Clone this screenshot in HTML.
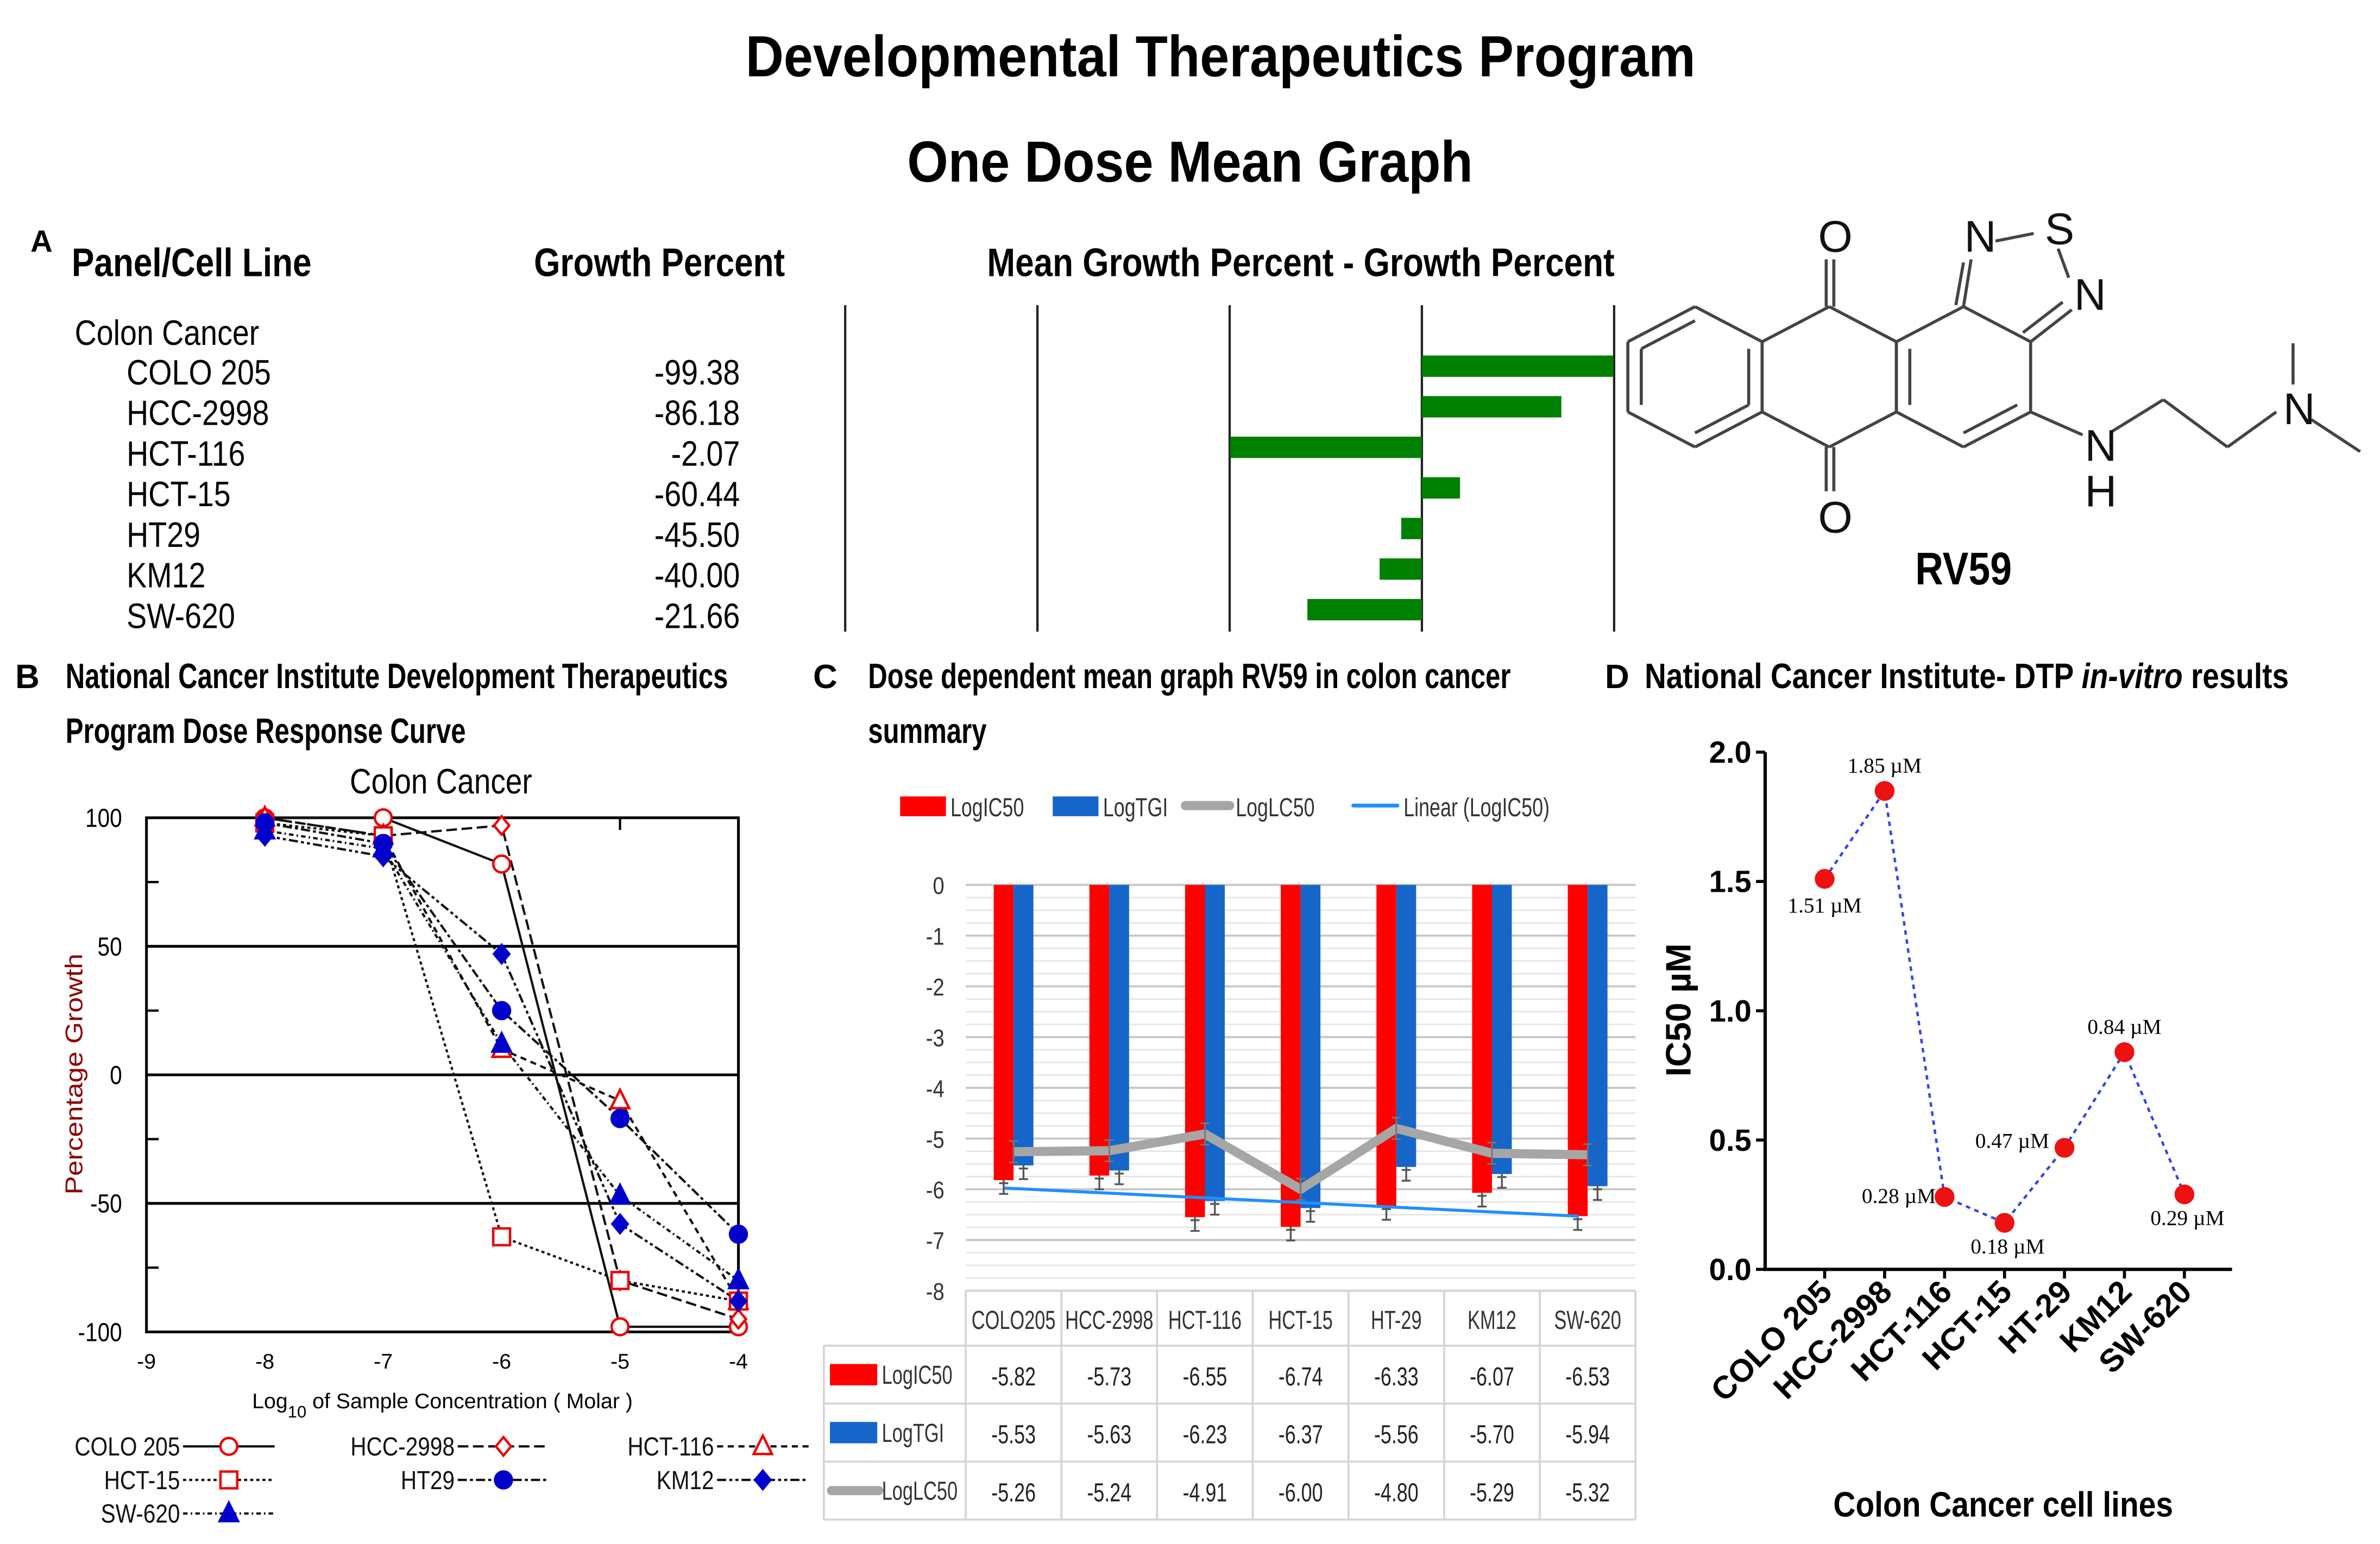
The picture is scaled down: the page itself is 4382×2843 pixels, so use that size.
<!DOCTYPE html>
<html><head><meta charset="utf-8"><title>RV59 DTP figure</title>
<style>
html,body{margin:0;padding:0;background:#fff;}
svg{display:block;}
text{font-family:"Liberation Sans Narrow","Liberation Sans",sans-serif;}
.b{font-weight:bold;}
.serif{font-family:"Liberation Serif",serif;}
</style></head>
<body>
<svg id="fig" width="4382" height="2843" viewBox="0 0 1560 1012" preserveAspectRatio="none" xmlns="http://www.w3.org/2000/svg">
<rect x="0" y="0" width="1560" height="1012" fill="#fff"/>
<text class="b c91" x="800" y="50" font-size="38" text-anchor="middle">Developmental Therapeutics Program</text>
<text class="b c91" x="780" y="119" font-size="38" text-anchor="middle">One Dose Mean Graph</text>

<g id="panelA">
<text class="b" x="20" y="165" font-size="20">A</text>
<text class="b c85" x="47" y="181" font-size="26">Panel/Cell Line</text>
<text class="b c85" x="350" y="181" font-size="26">Growth Percent</text>
<text class="b c85" x="647" y="181" font-size="26">Mean Growth Percent - Growth Percent</text>
<text class="c86" x="49" y="226" font-size="23">Colon Cancer</text>
</g>

<g id="mol" stroke="#444" stroke-width="2" fill="none"></g>
<text class="b c85" x="1287" y="383" font-size="30" text-anchor="middle">RV59</text>

<g id="panelB">
<text class="b" x="10" y="451" font-size="22">B</text>
<text class="b c76" x="43" y="451" font-size="23">National Cancer Institute Development Therapeutics</text>
<text class="b c76" x="43" y="487" font-size="23">Program Dose Response Curve</text>
<text class="c85" x="289" y="520" font-size="23" text-anchor="middle">Colon Cancer</text>
<text x="0" y="0" font-size="16" fill="#8b0000" text-anchor="middle" transform="translate(54,704) rotate(-90)" textLength="158" lengthAdjust="spacingAndGlyphs">Percentage Growth</text>
<text x="290" y="923" font-size="14" text-anchor="middle">Log<tspan font-size="11" dy="6">10</tspan><tspan dy="-6"> of Sample Concentration ( Molar )</tspan></text>
</g>

<g id="panelC">
<text class="b" x="533" y="451" font-size="22">C</text>
<text class="b c76" x="569" y="451" font-size="23">Dose dependent mean graph RV59 in colon cancer</text>
<text class="b c76" x="569" y="487" font-size="23">summary</text>
</g>

<g id="panelD">
<text class="b" x="1052" y="451" font-size="22">D</text>
<text class="b c85" x="1078" y="451" font-size="23">National Cancer Institute- DTP <tspan font-style="italic">in-vitro</tspan> results</text>
<text class="b" font-size="23" text-anchor="middle" transform="translate(1108,662) rotate(-90)" font-family="Liberation Sans, sans-serif">IC50 µM</text>
<text class="b c88" x="1313" y="994" font-size="23" text-anchor="middle">Colon Cancer cell lines</text>
</g>
</svg>
<script>
const NS="http://www.w3.org/2000/svg";
const svg=document.getElementById('fig');
function mk(parent,tag,attrs,txt){const e=document.createElementNS(NS,tag);for(const k in attrs)e.setAttribute(k,attrs[k]);if(txt!==undefined)e.textContent=txt;parent.appendChild(e);return e;}

// ===== Panel A data =====
const aCells=["COLO 205","HCC-2998","HCT-116","HCT-15","HT29","KM12","SW-620"];
const aGrowth=[-99.38,-86.18,-2.07,-60.44,-45.50,-40.00,-21.66];

// ===== Panel B data =====
const bConc=[-8,-7,-6,-5,-4];
const bNames=["COLO 205","HCC-2998","HCT-116","HCT-15","HT29","KM12","SW-620"];
const bColo=[100,100,82,-98,-98];
const bHcc=[100,93,97,-80,-95];
const bHct116=[100,93,10,-10,-88];
const bHct15=[98,93,-63,-80,-88];
const bHt29=[98,90,25,-17,-62];
const bKm12=[93,85,47,-58,-88];
const bSw620=[95,88,12,-47,-80];
const bXTicks=[-9,-8,-7,-6,-5,-4];
const bYTicks=[100,50,0,-50,-100];

// ===== Panel C data =====
const cCats=["COLO205","HCC-2998","HCT-116","HCT-15","HT-29","KM12","SW-620"];
const cIC50=[-5.82,-5.73,-6.55,-6.74,-6.33,-6.07,-6.53];
const cTGI=[-5.53,-5.63,-6.23,-6.37,-5.56,-5.70,-5.94];
const cLC50=[-5.26,-5.24,-4.91,-6.00,-4.80,-5.29,-5.32];
const cYTicks=[0,-1,-2,-3,-4,-5,-6,-7,-8];

// ===== Panel D data =====
const dCats=["COLO 205","HCC-2998","HCT-116","HCT-15","HT-29","KM12","SW-620"];
const dIC50=[1.51,1.85,0.28,0.18,0.47,0.84,0.29];
const dYTicks=[0.0,0.5,1.0,1.5,2.0];

// ---------- Panel A ----------
(function(){
  const g=document.getElementById('panelA');
  const rowY=i=>240+i*26.6;
  [554,680,806,932,1058].forEach(x=>{
    const l=mk(g,'line',{x1:x,y1:200,x2:x,y2:414,stroke:'#222','stroke-width':1.5});
    
    
  });
  const mean=aGrowth.reduce((a,b)=>a+b,0)/aGrowth.length;
  const xs=v=>932+(mean-v)*2.58;
  aCells.forEach((c,i)=>{
    const t=mk(g,'text',{x:83,y:rowY(i)+12,'font-size':23,class:'c86'},c);
    
    
    const v=mk(g,'text',{x:485,y:rowY(i)+12,'font-size':23,'text-anchor':'end',class:'c86'},aGrowth[i].toFixed(2));
    
    
    const x0=Math.min(932,xs(aGrowth[i])), w=Math.abs(xs(aGrowth[i])-932);
    const r=mk(g,'rect',{x:x0,y:rowY(i)-7,width:w,height:14,fill:'#008000'});
    
    
  });
})();

// ---------- Molecule ----------
(function(){
  const g=document.getElementById('mol');
  const L=(x1,y1,x2,y2)=>{const l=mk(g,'line',{x1,y1,x2,y2});};
  function hex(cx,cy){const p=[[cx,cy-46],[cx+44,cy-23],[cx+44,cy+23],[cx,cy+46],[cx-44,cy+23],[cx-44,cy-23]];for(let i=0;i<6;i++){const a=p[i],b=p[(i+1)%6];L(a[0],a[1],b[0],b[1]);}return p;}
  const A=hex(1111,247),B=hex(1199,247),C=hex(1287,247);
  const inner=(a,b,cx,cy)=>{const f=0.8;L(cx+(a[0]-cx)*f,cy+(a[1]-cy)*f,cx+(b[0]-cx)*f,cy+(b[1]-cy)*f);};
  inner(A[5],A[0],1111,247);inner(A[4],A[5],1111,247);inner(A[2],A[3],1111,247);inner([1155,224],[1155,270],1111,247);
  inner(C[4],C[5],1287,247);inner(C[2],C[3],1287,247);
  L(1197,201,1197,170);L(1202,201,1202,170);
  L(1197,293,1197,322);L(1202,293,1202,322);
  L(1287,201,1292,170);L(1282,200,1287,172);
  L(1308,158,1333,153);
  L(1349,163,1356,182);
  L(1331,224,1358,203);L(1326,218,1352,198);
  L(1331,270,1365,285);
  L(1384,283,1418,262);L(1418,262,1460,293);L(1460,293,1492,270);
  L(1503,252,1503,225);L(1515,275,1547,296);
  const T=(x,y,s)=>{const t=mk(g,'text',{x,y,'font-size':29,'text-anchor':'middle',fill:'#111',stroke:'none','font-family':'Liberation Sans, sans-serif'},s);};
  T(1203,165,'O');T(1203,349,'O');T(1298,165,'N');T(1350,160,'S');T(1370,203,'N');T(1377,302,'N');T(1377,332,'H');T(1507,278,'N');
})();

// ---------- Panel B ----------
(function(){
  const g=document.getElementById('panelB');
  const X0=96,X1=484,Y0=536,Y1=873;
  const xs=v=>X0+(v+9)/5*(X1-X0);
  const ys=v=>Y1-(v+100)/200*(Y1-Y0);
  const fr=mk(g,'rect',{x:X0,y:Y0,width:X1-X0,height:Y1-Y0,fill:'none',stroke:'#000','stroke-width':1.8});
  
  [50,0,-50].forEach(v=>{const l=mk(g,'line',{x1:X0,y1:ys(v),x2:X1,y2:ys(v),stroke:'#000','stroke-width':1.8});});
  [75,25,-25,-75].forEach(v=>{const l=mk(g,'line',{x1:X0,y1:ys(v),x2:X0+8,y2:ys(v),stroke:'#000','stroke-width':1.5});});
  [-8,-7,-6,-5].forEach(v=>{const l=mk(g,'line',{x1:xs(v),y1:Y0,x2:xs(v),y2:Y0+8,stroke:'#000','stroke-width':1.5});});
  bYTicks.forEach(v=>{const t=mk(g,'text',{x:80,y:ys(v)+6,'font-size':17,'text-anchor':'end',class:'c85'},String(v));});
  bXTicks.forEach(v=>{const t=mk(g,'text',{x:xs(v),y:897,'font-size':14,'text-anchor':'middle'},String(v));});
  const series=[bColo,bHcc,bHct116,bHct15,bHt29,bKm12,bSw620];
  const dashes=['none','7,3','4,3','2,2','6,2,2,2','6,2,2,2,2,2','3,2,1,2'];
  const markers=['circle','diamond','triangle','square','circle','diamond','triangle'];
  const colors=['#e00','#e00','#e00','#e00','#00c','#00c','#00c'];
  const fills=['none','none','none','none','#00c','#00c','#00c'];
  function marker(parent,type,x,y,col,fill,name){
    let e;
    if(type==='circle')e=mk(parent,'circle',{cx:x,cy:y,r:5.5,fill:fill==='none'?'#fff':fill,stroke:col,'stroke-width':1.6});
    else if(type==='square')e=mk(parent,'rect',{x:x-5.5,y:y-5.5,width:11,height:11,fill:'#fff',stroke:col,'stroke-width':1.6});
    else if(type==='diamond')e=mk(parent,'polygon',{points:`${x},${y-6} ${x+5},${y} ${x},${y+6} ${x-5},${y}`,fill:fill==='none'?'#fff':fill,stroke:col,'stroke-width':1.6});
    else e=mk(parent,'polygon',{points:`${x},${y-7} ${x+6},${y+5} ${x-6},${y+5}`,fill:fill==='none'?'#fff':fill,stroke:col,'stroke-width':1.6});
    
    
  }
  series.forEach((s,i)=>{
    const pts=s.map((v,j)=>xs(bConc[j])+','+ys(v)).join(' ');
    const pl=mk(g,'polyline',{points:pts,fill:'none',stroke:'#111','stroke-width':1.5,'stroke-dasharray':dashes[i]});
    
    
  });
  series.forEach((s,i)=>{s.forEach((v,j)=>marker(g,markers[i],xs(bConc[j]),ys(v),colors[i],fills[i],'dose-point'));});
  const lx=[[120,300,470],[120,300,470],[120]];
  let k=0;
  for(let r=0;r<3;r++){for(let c=0;c<lx[r].length;c++){
    const i=k++;const y=948+r*22;const x=lx[r][c];
    const t=mk(g,'text',{x:x-2,y:y+6,'font-size':17,'text-anchor':'end',class:'c85',fill:'#111'},bNames[i]);
    
    const l=mk(g,'line',{x1:x,y1:y,x2:x+60,y2:y,stroke:'#111','stroke-width':1.5,'stroke-dasharray':dashes[i]});
    
    marker(g,markers[i],x+30,y,colors[i],fills[i],'legend-marker');
  }}
})();

// ---------- Panel C ----------
(function(){
  const g=document.getElementById('panelC');
  const X0=633,X1=1072,Y0=580,Y1=846;
  const bw=(X1-X0)/cCats.length;
  const xc=i=>X0+bw*(i+0.5);
  const yv=v=>Y0+(-v)/8*(Y1-Y0);
  for(let v=0;v>=-8;v-=0.25){const maj=Math.abs(v-Math.round(v))<1e-6;
    const l=mk(g,'line',{x1:X0,y1:yv(v),x2:X1,y2:yv(v),stroke:maj?'#c8c8c8':'#e6e6e6','stroke-width':maj?1.4:1});
    }
  cYTicks.forEach(v=>{const t=mk(g,'text',{x:619,y:yv(v)+6,'font-size':16,'text-anchor':'end',fill:'#333',class:'c85'},String(v));});
  cCats.forEach((c,i)=>{
    const r=mk(g,'rect',{x:xc(i)-13,y:Y0,width:13,height:yv(cIC50[i])-Y0,fill:'#ff0000'});
    
    const b=mk(g,'rect',{x:xc(i),y:Y0,width:13,height:yv(cTGI[i])-Y0,fill:'#1566c8'});
    
    [[xc(i)-6.5,cIC50[i]],[xc(i)+6.5,cTGI[i]]].forEach(p=>{
      const y=yv(p[1]);
      const e=mk(g,'path',{d:`M${p[0]},${y} V${y+9} M${p[0]-3},${y+9} H${p[0]+3} M${p[0]-3},${y+2} H${p[0]+3}`,stroke:'#555','stroke-width':1.2,fill:'none'});
      
    });
  });
  const n=cIC50.length;let sx=0,sy=0,sxy=0,sxx=0;
  cIC50.forEach((v,i)=>{sx+=i;sy+=v;sxy+=i*v;sxx+=i*i;});
  const m=(n*sxy-sx*sy)/(n*sxx-sx*sx),b0=(sy-m*sx)/n;
  const tl=mk(g,'line',{x1:xc(0)-6,y1:yv(b0),x2:xc(n-1)-6,y2:yv(b0+m*(n-1)),stroke:'#1e90ff','stroke-width':2});
  
  const lc=mk(g,'polyline',{points:cLC50.map((v,i)=>xc(i)+','+yv(v)).join(' '),fill:'none',stroke:'#a6a6a6','stroke-width':6,'stroke-linejoin':'round'});
  
  cLC50.forEach((v,i)=>{const e=mk(g,'path',{d:`M${xc(i)},${yv(v)-7} V${yv(v)+7} M${xc(i)-3},${yv(v)-7} H${xc(i)+3} M${xc(i)-3},${yv(v)+7} H${xc(i)+3}`,stroke:'#777','stroke-width':1});});
  const leg=[['rect','#ff0000','LogIC50',590],['rect','#1566c8','LogTGI',690],['gline','#a6a6a6','LogLC50',777],['line','#1e90ff','Linear (LogIC50)',887]];
  leg.forEach(L=>{
    let s;
    if(L[0]==='rect')s=mk(g,'rect',{x:L[3],y:522,width:30,height:13,fill:L[1]});
    else s=mk(g,'line',{x1:L[3],y1:528,x2:L[3]+29,y2:528,stroke:L[1],'stroke-width':L[0]==='gline'?6:2.5,'stroke-linecap':'round'});
    
    const t=mk(g,'text',{x:L[3]+33,y:535,'font-size':17,fill:'#333',class:'c75'},L[2]);
    
  });
  const rows=[Y1,882,920,958,996];
  const tc='#d4d4d4';
  const hl=(x1,y,x2)=>{const l=mk(g,'line',{x1,y1:y,x2,y2:y,stroke:tc,'stroke-width':1.3});};
  const vl=(x,y1,y2)=>{const l=mk(g,'line',{x1:x,y1,x2:x,y2,stroke:tc,'stroke-width':1.3});};
  hl(X0,Y1,X1);hl(540,882,X1);hl(540,920,X1);hl(540,958,X1);hl(540,996,X1);
  vl(540,882,996);for(let i=0;i<=7;i++)vl(X0+bw*i,Y1,996);
  cCats.forEach((c,i)=>{const t=mk(g,'text',{x:xc(i),y:871,'font-size':17,'text-anchor':'middle',fill:'#333',class:'c72'},c);});
  const tabs=[[cIC50,'#ff0000','LogIC50','rect'],[cTGI,'#1566c8','LogTGI','rect'],[cLC50,'#a6a6a6','LogLC50','line']];
  tabs.forEach((T,r)=>{
    const yc=(rows[r+1]+rows[r+2])/2;
    let s;
    if(T[3]==='rect')s=mk(g,'rect',{x:544,y:yc-7,width:31,height:14,fill:T[1]});
    else s=mk(g,'line',{x1:545,y1:yc,x2:576,y2:yc,stroke:T[1],'stroke-width':6,'stroke-linecap':'round'});
    
    const lt=mk(g,'text',{x:578,y:yc+6,'font-size':17,fill:'#333',class:'c72'},T[2]);
    
    T[0].forEach((v,i)=>{const t=mk(g,'text',{x:xc(i),y:yc+7,'font-size':17,'text-anchor':'middle',fill:'#222',class:'c75'},v.toFixed(2));});
  });
})();

// ---------- Panel D ----------
(function(){
  const g=document.getElementById('panelD');
  const X0=1157,X1=1463,Y0=493,Y1=832;
  const xc=i=>1196+i*39.3;
  const yv=v=>Y1-v/2*(Y1-Y0);
  const ax=mk(g,'path',{d:`M${X0},${Y0} V${Y1} H${X1}`,stroke:'#000','stroke-width':2.2,fill:'none'});
  
  dYTicks.forEach(v=>{
    const l=mk(g,'line',{x1:X0-6,y1:yv(v),x2:X0,y2:yv(v),stroke:'#000','stroke-width':2});
    const t=mk(g,'text',{x:X0-9,y:yv(v)+7,'font-size':20,'text-anchor':'end',class:'b','font-family':'Liberation Sans, sans-serif'},v.toFixed(1));
  });
  dCats.forEach((c,i)=>{
    const l=mk(g,'line',{x1:xc(i),y1:Y1,x2:xc(i),y2:Y1+6,stroke:'#000','stroke-width':2});
    const t=mk(g,'text',{'font-size':21,'text-anchor':'end',class:'b',transform:`translate(${xc(i)+6},${Y1+16}) rotate(-45)`,'font-family':'Liberation Sans, sans-serif'},c);
    
  });
  const pl=mk(g,'polyline',{points:dIC50.map((v,i)=>xc(i)+','+yv(v)).join(' '),fill:'none',stroke:'#3344ee','stroke-width':1.6,'stroke-dasharray':'3,3'});
  
  const off=[[0,22],[0,-12],[-30,4],[2,20],[-10,0],[0,-12],[2,20]];
  const anch=['middle','middle','middle','middle','end','middle','middle'];
  dIC50.forEach((v,i)=>{
    const c=mk(g,'circle',{cx:xc(i),cy:yv(v),r:6.5,fill:'#ee1111'});
    const t=mk(g,'text',{x:xc(i)+off[i][0],y:yv(v)+off[i][1],'font-size':14,'text-anchor':anch[i],class:'serif'},v.toFixed(2)+' µM');
    
  });
})();

// ---------- condense text to mimic narrow font ----------
document.querySelectorAll('text').forEach(t=>{
  const cls=(t.getAttribute('class')||'').split(/\s+/).find(c=>/^c\d+$/.test(c));
  if(!cls)return;
  const f=parseInt(cls.slice(1),10)/100;
  const len=t.getComputedTextLength();
  if(len>0){t.setAttribute('textLength',(len*f).toFixed(1));t.setAttribute('lengthAdjust','spacingAndGlyphs');}
});
</script>
</body></html>
